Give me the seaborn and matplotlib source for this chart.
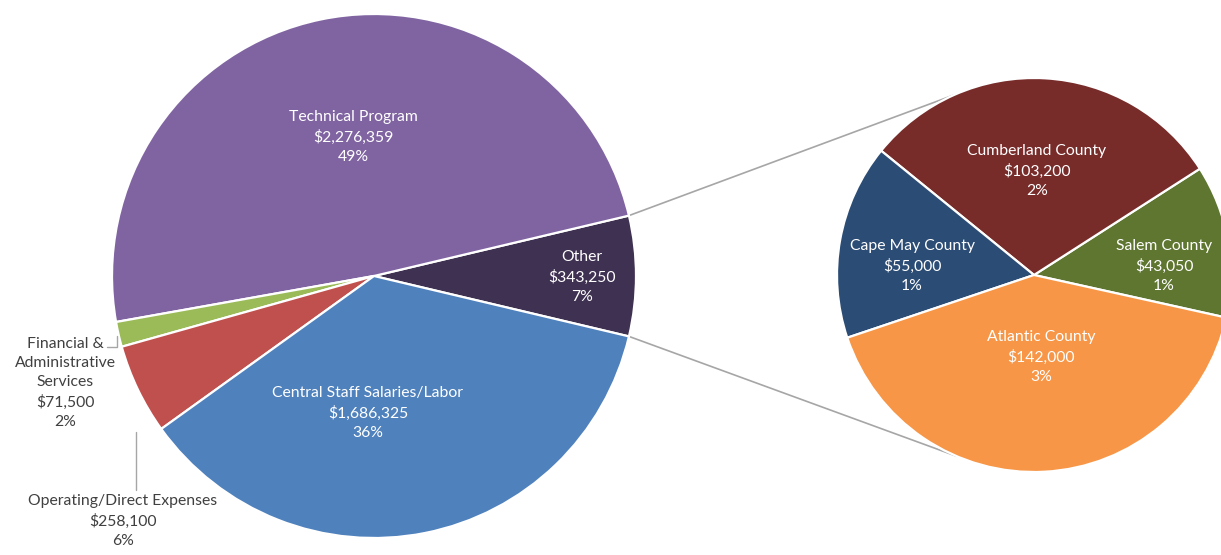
import numpy as np
import matplotlib
matplotlib.use("Agg")
import matplotlib.pyplot as plt
import seaborn as sns

# Budget breakdown (main pie) and the split of "Other" by county (secondary pie)
main_labels = ["Other", "Technical Program", "Financial &\nAdministrative\nServices",
               "Operating/Direct Expenses", "Central Staff Salaries/Labor"]
main_values = [343250, 2276359, 71500, 258100, 1686325]

sub_labels = ["Salem County", "Cumberland County", "Cape May County", "Atlantic County"]
sub_values = [43050, 103200, 55000, 142000]

sns.set_theme(style="white")
plt.rcParams["font.family"] = ["Lato", "DejaVu Sans"]

main_colors = sns.color_palette(["#3F3151", "#8064A2", "#9BBB59", "#C0504D", "#4F81BD"])
sub_colors = sns.color_palette(["#5E762F", "#772C2A", "#2B4C74", "#F79646"])

W, H = 1221, 555
fig = plt.figure(figsize=(W / 100, H / 100), dpi=100)
ax = fig.add_axes([0, 0, 1, 1])
ax.set_xlim(0, W)
ax.set_ylim(0, H)
ax.set_aspect("equal")
ax.axis("off")


def py(y):
    """Convert a top-down pixel row to the axis' bottom-up y."""
    return H - y


total = sum(main_values)
main_c, main_r = (374, py(276)), 262
sub_c, sub_r = (1034, py(275)), 197

other_span = main_values[0] / total * 360
wedges, _ = ax.pie(main_values, colors=main_colors, startangle=-other_span / 2,
                   counterclock=True, center=main_c, radius=main_r,
                   wedgeprops=dict(edgecolor="white", linewidth=1.6))
sub_wedges, _ = ax.pie(sub_values, colors=sub_colors, startangle=-12.5,
                       counterclock=True, center=sub_c, radius=sub_r,
                       wedgeprops=dict(edgecolor="white", linewidth=1.6))
ax.set_xlim(0, W)
ax.set_ylim(0, H)


def label_text(name, value):
    return f"{name}\n${value:,.0f}\n{round(value / total * 100):.0f}%"


fs = 11.3
ls = 1.45
# main pie labels: (x, y) in pixel rows, colour
main_pos = [(582, 277, "white"), (353, 137, "white"), (65, 383, "#404040"),
            (123, 521, "#404040"), (368, 413, "white")]
for name, val, (x, y, col) in zip(main_labels, main_values, main_pos):
    ax.text(x, py(y), label_text(name, val), ha="center", va="center",
            color=col, fontsize=fs, linespacing=ls)

sub_pos = [(1164, 266), (1037, 171), (912, 266), (1041, 357)]
for name, val, (x, y) in zip(sub_labels, sub_values, sub_pos):
    ax.text(x, py(y), label_text(name, val), ha="center", va="center",
            color="white", fontsize=fs, linespacing=ls)

# leader lines for the outside labels
lead = "#A6A6A6"
ax.plot([117, 117, 107], [py(336), py(347), py(347)], color=lead, lw=1.0)
ax.plot([136, 136], [py(432), py(490)], color=lead, lw=1.0)

# connector lines from the "Other" slice to the secondary pie
ow = wedges[0]
for ang_main, ang_sub in [(ow.theta2, 114), (ow.theta1, 247)]:
    x0 = main_c[0] + main_r * np.cos(np.radians(ang_main))
    y0 = main_c[1] + main_r * np.sin(np.radians(ang_main))
    x1 = sub_c[0] + sub_r * np.cos(np.radians(ang_sub))
    y1 = sub_c[1] + sub_r * np.sin(np.radians(ang_sub))
    ax.plot([x0, x1], [y0, y1], color=lead, lw=1.2, zorder=0)

fig.savefig("out.png", dpi=100, facecolor="white")
